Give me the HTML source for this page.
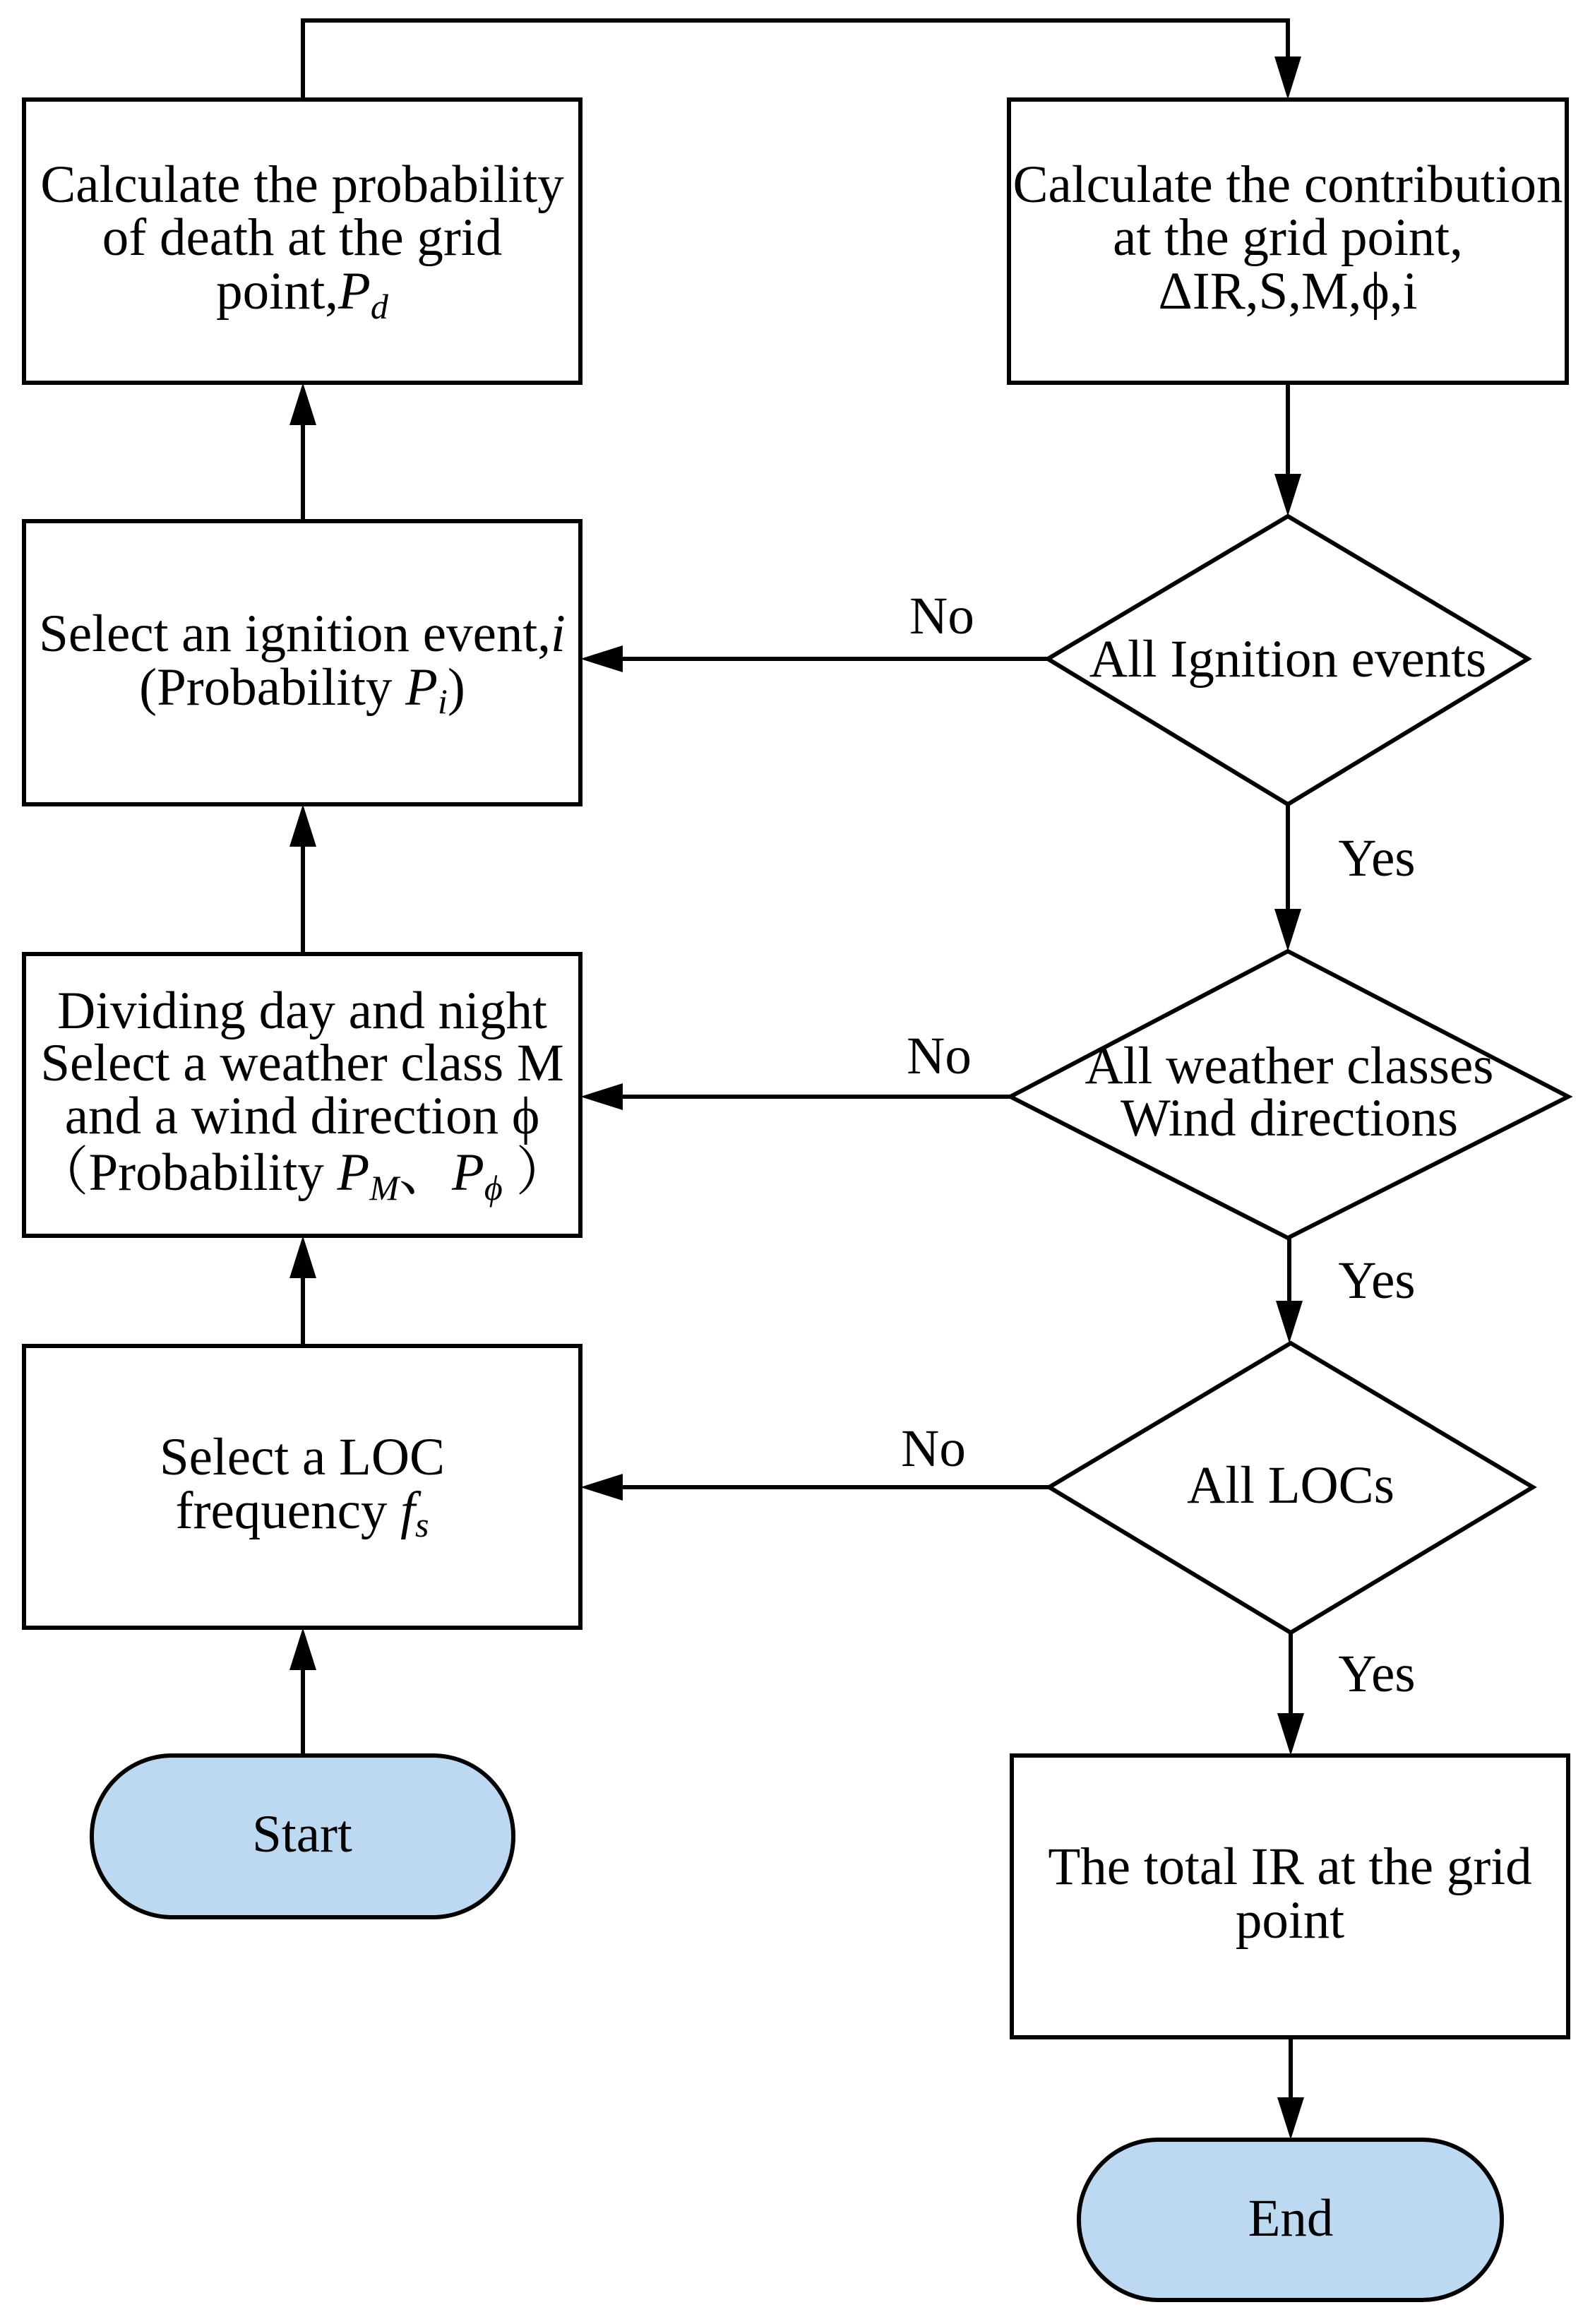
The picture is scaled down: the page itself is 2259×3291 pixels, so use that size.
<!DOCTYPE html>
<html><head><meta charset="utf-8"><style>
html,body{margin:0;padding:0;background:#fff;}
svg{display:block;}
text{font-family:"Liberation Serif","Noto Serif CJK SC",serif;font-size:75px;fill:#000;}
</style></head><body>
<svg width="2259" height="3291" viewBox="0 0 2259 3291" xmlns="http://www.w3.org/2000/svg">
<g fill="none" stroke="#000" stroke-width="6">
<rect x="34" y="141" width="788" height="401"/>
<rect x="1429" y="141" width="790" height="401"/>
<rect x="34" y="738" width="788" height="401"/>
<rect x="34" y="1351" width="788" height="399"/>
<rect x="34" y="1906" width="788" height="399"/>
<rect x="1433" y="2486" width="788" height="399"/>
<rect x="130" y="2486" width="597" height="229" rx="114" fill="#bdd9f1"/>
<rect x="1528" y="3030" width="599" height="227" rx="113" fill="#bdd9f1"/>
<polygon points="1824,731 2164,933 1824,1139 1484,933"/>
<polygon points="1824,1347 2221,1553 1824,1753 1431,1553"/>
<polygon points="1828,1902 2171,2106 1828,2312 1486,2106"/>
<polyline points="429,141 429,29 1824,29 1824,100"/>
<line x1="1824" y1="542" x2="1824" y2="690"/>
<line x1="1824" y1="1139" x2="1824" y2="1306"/>
<line x1="1826" y1="1753" x2="1826" y2="1861"/>
<line x1="1828" y1="2312" x2="1828" y2="2445"/>
<line x1="1828" y1="2885" x2="1828" y2="2989"/>
<line x1="1484" y1="933" x2="862" y2="933"/>
<line x1="1431" y1="1553" x2="862" y2="1553"/>
<line x1="1486" y1="2106" x2="862" y2="2106"/>
<line x1="429" y1="2486" x2="429" y2="2346"/>
<line x1="429" y1="1906" x2="429" y2="1791"/>
<line x1="429" y1="1351" x2="429" y2="1180"/>
<line x1="429" y1="738" x2="429" y2="583"/>
</g>
<g fill="#000">
<polygon points="1805,80 1843,80 1824,141"/>
<polygon points="1805,671 1843,671 1824,731"/>
<polygon points="1805,1287 1843,1287 1824,1347"/>
<polygon points="1807,1842 1845,1842 1826,1902"/>
<polygon points="1809,2426 1847,2426 1828,2486"/>
<polygon points="1809,2970 1847,2970 1828,3030"/>
<polygon points="822,933 882,914 882,952"/>
<polygon points="822,1553 882,1534 882,1572"/>
<polygon points="822,2106 882,2087 882,2125"/>
<polygon points="429,2305 410,2365 448,2365"/>
<polygon points="429,1750 410,1810 448,1810"/>
<polygon points="429,1139 410,1199 448,1199"/>
<polygon points="429,542 410,602 448,602"/>
</g>
<g text-anchor="middle">
<text x="428" y="286">Calculate the probability</text>
<text x="428" y="361">of death at the grid</text>
<text x="428" y="437">point,<tspan font-style="italic">P</tspan><tspan font-style="italic" font-size="50" dy="14">d</tspan></text>
<text x="1824" y="286">Calculate the contribution</text>
<text x="1824" y="361">at the grid point,</text>
<text x="1824" y="437">ΔIR,S,M,ϕ,i</text>
<text x="428" y="922">Select an ignition event,<tspan font-style="italic">i</tspan></text>
<text x="428" y="998">(Probability <tspan font-style="italic">P</tspan><tspan font-style="italic" font-size="50" dy="12">i</tspan><tspan dy="-12">)</tspan></text>
<text x="428" y="1456">Dividing day and night</text>
<text x="428" y="1530">Select a weather class M</text>
<text x="428" y="1605">and a wind direction ϕ</text>
<text x="428" y="1685">（Probability <tspan font-style="italic">P</tspan><tspan font-style="italic" font-size="50" dy="14">M</tspan><tspan dy="-14">、</tspan><tspan font-style="italic">P</tspan><tspan font-style="italic" font-size="50" dy="14">ϕ</tspan><tspan dy="-14"> ）</tspan></text>
<text x="428" y="2088">Select a LOC</text>
<text x="428" y="2164">frequency <tspan font-style="italic">f</tspan><tspan font-style="italic" font-size="50" dy="12">s</tspan></text>
<text x="428" y="2622">Start</text>
<text x="1824" y="958">All Ignition events</text>
<text x="1826" y="1534">All weather classes</text>
<text x="1826" y="1608">Wind directions</text>
<text x="1828" y="2128">All LOCs</text>
<text x="1827" y="2668">The total IR at the grid</text>
<text x="1827" y="2744">point</text>
<text x="1828" y="3166">End</text>
<text x="1334" y="897">No</text>
<text x="1330" y="1520">No</text>
<text x="1322" y="2076">No</text>
<text x="1950" y="1240">Yes</text>
<text x="1950" y="1838">Yes</text>
<text x="1950" y="2395">Yes</text>
</g>
</svg>
</body></html>
